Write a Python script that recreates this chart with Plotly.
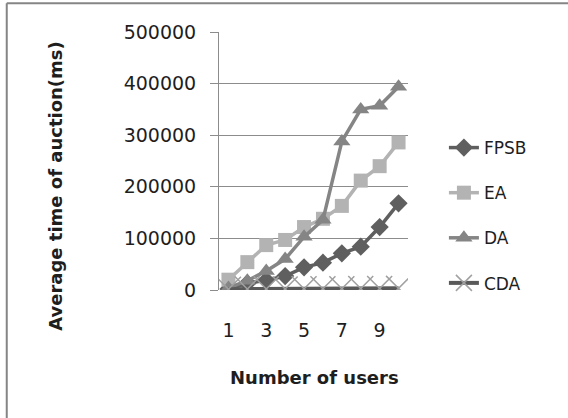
import plotly.graph_objects as go

# Number of users (x categories) and average auction time in ms per mechanism
users = [1, 2, 3, 4, 5, 6, 7, 8, 9, 10]
fpsb = [2000, 13000, 19000, 27000, 44000, 53000, 71000, 84000, 122000, 168000]
ea = [20000, 54000, 87000, 97000, 122000, 138000, 163000, 212000, 240000, 286000]
da = [4000, 18000, 37000, 60000, 103000, 136000, 288000, 350000, 357000, 394000]
cda = [1500, 1800, 2000, 2100, 2300, 2500, 2600, 2800, 3000, 3200]

y_ticks = [0, 100000, 200000, 300000, 400000, 500000]
x_ticks = [1, 3, 5, 7, 9]

FONT = "DejaVu Sans"
TEXT = "#1e1e1e"

fig = go.Figure()

fig.add_trace(go.Scatter(
    x=users, y=fpsb, name="FPSB", mode="lines+markers", legendgroup="g1",
    line=dict(color="#5f5f5f", width=3.5),
    marker=dict(symbol="diamond", size=14, color="#5f5f5f"),
))
fig.add_trace(go.Scatter(
    x=users, y=ea, name="EA", mode="lines+markers", legendgroup="g2",
    line=dict(color="#b3b3b3", width=3.5),
    marker=dict(symbol="square", size=14, color="#b3b3b3"),
))
fig.add_trace(go.Scatter(
    x=users, y=da, name="DA", mode="lines+markers", legendgroup="g3",
    line=dict(color="#858585", width=3.5),
    marker=dict(symbol="triangle-up", size=15, color="#858585"),
))
fig.add_trace(go.Scatter(
    x=users, y=cda, name="CDA", mode="lines+markers", legendgroup="g4",
    line=dict(color="#595959", width=4),
    marker=dict(symbol="x-thin-open", size=25, color="#a0a0a0",
                line=dict(color="#a0a0a0", width=1.5)),
))

fig.update_layout(
    width=568, height=418,
    margin=dict(l=219, r=160, t=32, b=128),
    paper_bgcolor="white", plot_bgcolor="white",
    font=dict(family=FONT, color=TEXT),
    showlegend=True,
    legend=dict(
        x=1.19, y=0.62, xanchor="left", yanchor="top",
        font=dict(family=FONT, size=17, color=TEXT),
        tracegroupgap=20, bgcolor="rgba(0,0,0,0)",
    ),
    xaxis=dict(
        range=[0.5, 10.5], tickvals=x_ticks, ticktext=[str(v) for v in x_ticks],
        showgrid=False, zeroline=False, showline=False,
        ticks="", ticklabelstandoff=27,
        tickfont=dict(family=FONT, size=19, color=TEXT),
    ),
    yaxis=dict(
        range=[0, 500000], tickvals=y_ticks, ticktext=[str(v) for v in y_ticks],
        showgrid=True, gridcolor="#8c8c8c", gridwidth=1,
        zeroline=False, showline=True, linecolor="#8c8c8c", linewidth=1,
        ticks="outside", ticklen=8, tickcolor="#8c8c8c",
        ticklabelstandoff=10,
        tickfont=dict(family=FONT, size=19, color=TEXT),
    ),
    annotations=[
        dict(text="<b>Average time of auction(ms)</b>", xref="paper", yref="paper",
             x=-0.866, y=0.405, textangle=-90, showarrow=False,
             xanchor="center", yanchor="middle",
             font=dict(family=FONT, size=18, color=TEXT)),
        dict(text="<b>Number of users</b>", xref="paper", yref="paper",
             x=0.503, y=-0.34, showarrow=False, xanchor="center", yanchor="middle",
             font=dict(family=FONT, size=18, color=TEXT)),
    ],
    shapes=[
        dict(type="line", xref="paper", yref="paper", x0=-1.123, x1=1.9,
             y0=1.111, y1=1.111, line=dict(color="#858585", width=2)),
        dict(type="line", xref="paper", yref="paper", x0=-1.123, x1=-1.123,
             y0=1.111, y1=-0.6, line=dict(color="#858585", width=2)),
    ],
)

fig.write_html("out.html")
